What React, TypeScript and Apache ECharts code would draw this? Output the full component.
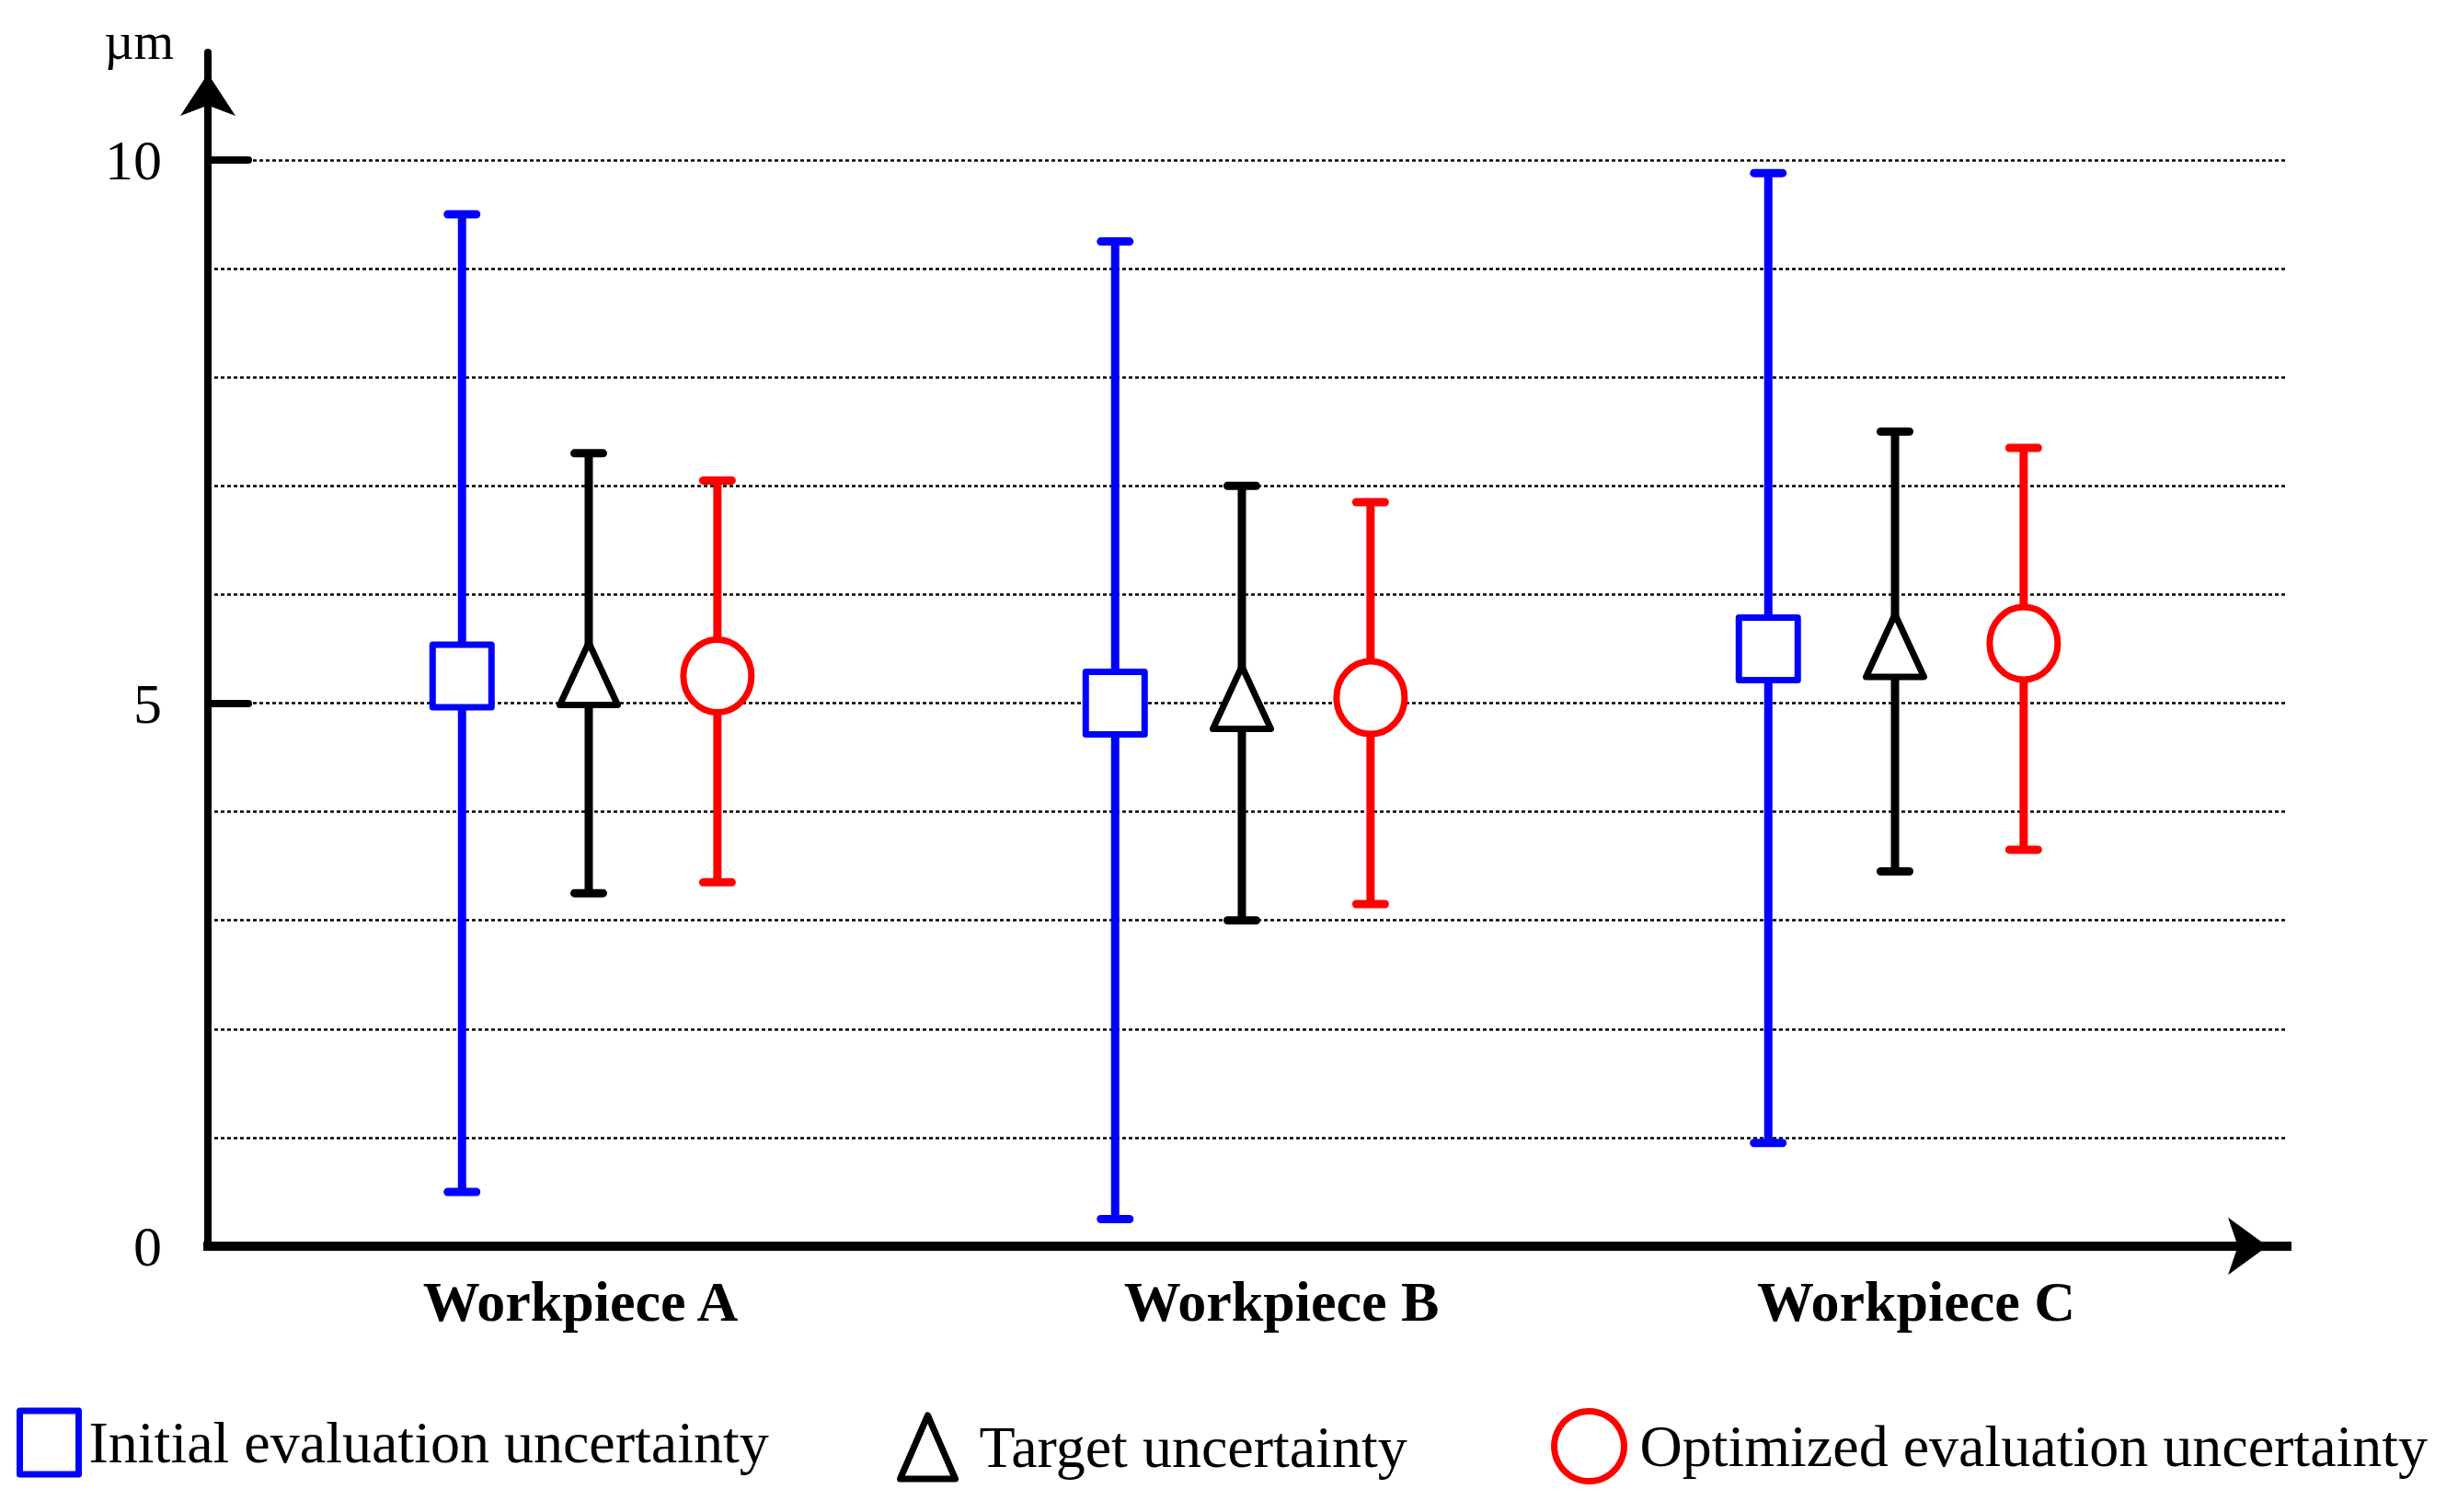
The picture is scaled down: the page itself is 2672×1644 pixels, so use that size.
import React, { useEffect, useRef } from 'react';
import * as echarts from 'echarts';

const categories = ['Workpiece A', 'Workpiece B', 'Workpiece C'];
const yTickValues = [0, 5, 10];
const seriesNames = ['Initial evaluation uncertainty', 'Target uncertainty', 'Optimized evaluation uncertainty'];

const initialMid = [5.25, 5.0, 5.5];
const initialLow = [0.5, 0.25, 0.95];
const initialHigh = [9.5, 9.25, 9.88];

const targetMid = [5.27, 5.05, 5.53];
const targetLow = [3.25, 3.0, 3.45];
const targetHigh = [7.3, 7.0, 7.5];

const optimizedMid = [5.25, 5.05, 5.55];
const optimizedLow = [3.35, 3.15, 3.65];
const optimizedHigh = [7.05, 6.85, 7.35];

const FONT = '"Liberation Serif", "Times New Roman", serif';
const BLUE = '#0000ff';
const BLACK = '#000000';
const RED = '#ff0000';

// label nudges (px padding) so the category names sit where the reference has them
const labelPads = [[0, 18, 0, 0], [0, 0, 0, 86], [0, 0, 0, 46]];

function buildData(mid: number[], low: number[], high: number[]) {
  return categories.map((_, i) => [i, mid[i], low[i], high[i]]);
}

function makeRender(color: string, shape: 'square' | 'triangle' | 'circle', offsetFrac: number) {
  return (params: any, api: any) => {
    const idx = api.value(0);
    const pMid = api.coord([idx, api.value(1)]);
    const pLo = api.coord([idx, api.value(2)]);
    const pHi = api.coord([idx, api.value(3)]);
    const band = api.size([1, 0])[0];
    const cx = pMid[0] + offsetFrac * band;
    const cy = pMid[1];
    const capHalf = 15.5;
    const lw = 9;
    const children: any[] = [
      { type: 'line', shape: { x1: cx, y1: pHi[1], x2: cx, y2: pLo[1] }, style: { stroke: color, lineWidth: lw } },
      { type: 'line', shape: { x1: cx - capHalf, y1: pHi[1], x2: cx + capHalf, y2: pHi[1] }, style: { stroke: color, lineWidth: lw, lineCap: 'round' } },
      { type: 'line', shape: { x1: cx - capHalf, y1: pLo[1], x2: cx + capHalf, y2: pLo[1] }, style: { stroke: color, lineWidth: lw, lineCap: 'round' } },
    ];
    const mStyle = { fill: '#ffffff', stroke: color, lineWidth: 7, lineJoin: 'round' };
    if (shape === 'square') {
      children.push({ type: 'rect', shape: { x: cx - 32, y: cy - 34, width: 64, height: 68 }, style: mStyle });
    } else if (shape === 'triangle') {
      const w = 63, h = 68;
      children.push({
        type: 'polygon',
        shape: { points: [[cx, cy - h / 2], [cx + w / 2, cy + h / 2], [cx - w / 2, cy + h / 2]] },
        style: mStyle,
      });
    } else {
      children.push({ type: 'ellipse', shape: { cx, cy, rx: 37, ry: 39.5 }, style: mStyle });
    }
    return { type: 'group', children };
  };
}

export default function App() {
  const ref = useRef<HTMLDivElement>(null);
  useEffect(() => {
    if (!ref.current) return;
    const chart = echarts.init(ref.current, undefined, { renderer: 'svg' });
    const legendBase = {
      orient: 'horizontal',
      padding: 0,
      selectedMode: false,
    };
    chart.setOption({
      animation: false,
      backgroundColor: '#ffffff',
      grid: [
        { left: 226, top: 174, width: 2258, height: 1181 },
        { left: 285, top: 174, width: 2130, height: 1181 },
        { left: 226, top: 57, width: 2260, height: 1298 },
      ],
      xAxis: [
        { gridIndex: 0, type: 'value', min: 0, max: 1, show: false },
        {
          gridIndex: 1,
          type: 'category',
          data: categories.map((c, i) => ({ value: c, textStyle: { padding: labelPads[i] } })),
          axisLine: { show: false },
          axisTick: { show: false },
          splitLine: { show: false },
          axisLabel: { fontSize: 62, fontWeight: 'bold', fontFamily: FONT, color: BLACK, margin: 29 },
        },
        {
          gridIndex: 2,
          type: 'value',
          min: 0,
          max: 1,
          axisLine: {
            show: true,
            symbol: ['none', 'arrow'],
            symbolSize: [47, 43],
            symbolOffset: [0, -21],
            lineStyle: { color: BLACK, width: 10, cap: 'square' },
          },
          axisTick: { show: false },
          axisLabel: { show: false },
          splitLine: { show: false },
        },
      ],
      yAxis: [
        {
          gridIndex: 0,
          type: 'value',
          min: 0,
          max: 10,
          interval: 1,
          axisLine: { show: false },
          axisTick: {
            show: true,
            inside: true,
            length: 44,
            customValues: yTickValues,
            lineStyle: { color: BLACK, width: 8, cap: 'round' },
          },
          axisLabel: { customValues: yTickValues, margin: 50, fontSize: 62, fontFamily: FONT, color: BLACK },
          splitLine: { show: false },
        },
        { gridIndex: 1, type: 'value', min: 0, max: 10, show: false },
        {
          gridIndex: 2,
          type: 'value',
          min: 0,
          max: 11,
          axisLine: {
            show: true,
            symbol: ['none', 'arrow'],
            symbolSize: [45, 46],
            symbolOffset: [0, -23],
            lineStyle: { color: BLACK, width: 8 },
          },
          axisTick: { show: false },
          axisLabel: { show: false },
          splitLine: { show: false },
          name: 'µm',
          nameLocation: 'end',
          nameGap: 12,
          nameTextStyle: {
            fontSize: 56,
            fontFamily: FONT,
            color: BLACK,
            align: 'right',
            verticalAlign: 'middle',
            padding: [0, 37, 0, 0],
          },
        },
        {
          gridIndex: 0,
          type: 'value',
          position: 'right',
          min: 0,
          max: 10,
          interval: 1,
          axisLine: { show: false },
          axisTick: { show: false },
          axisLabel: { show: false },
          splitLine: { show: true, lineStyle: { color: BLACK, width: 2.5, type: [4, 3] } },
        },
      ],
      legend: [
        {
          ...legendBase,
          left: 18,
          top: 1530.5,
          itemWidth: 64,
          itemHeight: 69,
          data: [{ name: seriesNames[0], icon: 'rect', itemStyle: { color: '#ffffff', borderColor: BLUE, borderWidth: 7, borderJoin: 'round' } }],
          textStyle: { fontSize: 64, fontFamily: FONT, color: BLACK, padding: [0, 0, 0, 6] },
        },
        {
          ...legendBase,
          left: 975,
          top: 1535.5,
          itemWidth: 60,
          itemHeight: 69,
          data: [{ name: seriesNames[1], icon: 'triangle', itemStyle: { color: '#ffffff', borderColor: BLACK, borderWidth: 7, borderJoin: 'round' } }],
          textStyle: { fontSize: 64, fontFamily: FONT, color: BLACK, padding: [0, 0, 0, 21] },
        },
        {
          ...legendBase,
          left: 1686,
          top: 1531,
          itemWidth: 76,
          itemHeight: 76,
          data: [{ name: seriesNames[2], icon: 'circle', itemStyle: { color: '#ffffff', borderColor: RED, borderWidth: 7 } }],
          textStyle: { fontSize: 64, fontFamily: FONT, color: BLACK, padding: [0, 0, 0, 12] },
        },
      ],
      series: [
        {
          name: seriesNames[0],
          type: 'custom',
          xAxisIndex: 1,
          yAxisIndex: 1,
          renderItem: makeRender(BLUE, 'square', -0.194),
          data: buildData(initialMid, initialLow, initialHigh),
          z: 5,
        },
        {
          name: seriesNames[1],
          type: 'custom',
          xAxisIndex: 1,
          yAxisIndex: 1,
          renderItem: makeRender(BLACK, 'triangle', 0),
          data: buildData(targetMid, targetLow, targetHigh),
          z: 5,
        },
        {
          name: seriesNames[2],
          type: 'custom',
          xAxisIndex: 1,
          yAxisIndex: 1,
          renderItem: makeRender(RED, 'circle', 0.197),
          data: buildData(optimizedMid, optimizedLow, optimizedHigh),
          z: 5,
        },
      ],
    });
    return () => chart.dispose();
  }, []);
  return (
    <div
      ref={ref}
      style={{ position: 'absolute', left: 0, top: 0, width: 2672, height: 1644, background: '#ffffff' }}
    />
  );
}
